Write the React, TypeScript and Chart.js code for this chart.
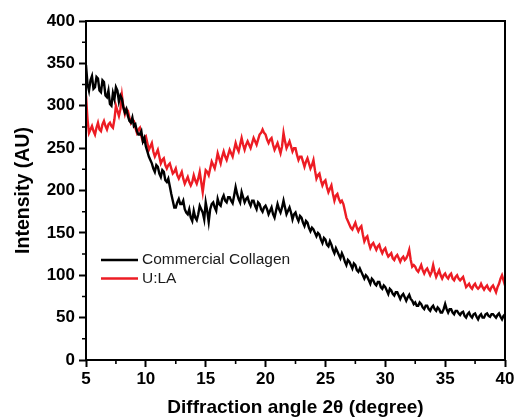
import React, { useEffect, useRef } from "react";
import { Chart, registerables } from "chart.js";

Chart.register(...registerables);

const angles = [
  5, 5.125, 5.25, 5.375, 5.5, 5.625, 5.75, 5.875,
  6, 6.125, 6.25, 6.375, 6.5, 6.625, 6.75, 6.875,
  7, 7.125, 7.25, 7.375, 7.5, 7.625, 7.75, 7.875,
  8, 8.125, 8.25, 8.375, 8.5, 8.625, 8.75, 8.875,
  9, 9.125, 9.25, 9.375, 9.5, 9.625, 9.75, 9.875,
  10, 10.125, 10.25, 10.375, 10.5, 10.625, 10.75, 10.875,
  11, 11.125, 11.25, 11.375, 11.5, 11.625, 11.75, 11.875,
  12, 12.125, 12.25, 12.375, 12.5, 12.625, 12.75, 12.875,
  13, 13.125, 13.25, 13.375, 13.5, 13.625, 13.75, 13.875,
  14, 14.125, 14.25, 14.375, 14.5, 14.625, 14.75, 14.875,
  15, 15.125, 15.25, 15.375, 15.5, 15.625, 15.75, 15.875,
  16, 16.125, 16.25, 16.375, 16.5, 16.625, 16.75, 16.875,
  17, 17.125, 17.25, 17.375, 17.5, 17.625, 17.75, 17.875,
  18, 18.125, 18.25, 18.375, 18.5, 18.625, 18.75, 18.875,
  19, 19.125, 19.25, 19.375, 19.5, 19.625, 19.75, 19.875,
  20, 20.125, 20.25, 20.375, 20.5, 20.625, 20.75, 20.875,
  21, 21.125, 21.25, 21.375, 21.5, 21.625, 21.75, 21.875,
  22, 22.125, 22.25, 22.375, 22.5, 22.625, 22.75, 22.875,
  23, 23.125, 23.25, 23.375, 23.5, 23.625, 23.75, 23.875,
  24, 24.125, 24.25, 24.375, 24.5, 24.625, 24.75, 24.875,
  25, 25.125, 25.25, 25.375, 25.5, 25.625, 25.75, 25.875,
  26, 26.125, 26.25, 26.375, 26.5, 26.625, 26.75, 26.875,
  27, 27.125, 27.25, 27.375, 27.5, 27.625, 27.75, 27.875,
  28, 28.125, 28.25, 28.375, 28.5, 28.625, 28.75, 28.875,
  29, 29.125, 29.25, 29.375, 29.5, 29.625, 29.75, 29.875,
  30, 30.125, 30.25, 30.375, 30.5, 30.625, 30.75, 30.875,
  31, 31.125, 31.25, 31.375, 31.5, 31.625, 31.75, 31.875,
  32, 32.125, 32.25, 32.375, 32.5, 32.625, 32.75, 32.875,
  33, 33.125, 33.25, 33.375, 33.5, 33.625, 33.75, 33.875,
  34, 34.125, 34.25, 34.375, 34.5, 34.625, 34.75, 34.875,
  35, 35.125, 35.25, 35.375, 35.5, 35.625, 35.75, 35.875,
  36, 36.125, 36.25, 36.375, 36.5, 36.625, 36.75, 36.875,
  37, 37.125, 37.25, 37.375, 37.5, 37.625, 37.75, 37.875,
  38, 38.125, 38.25, 38.375, 38.5, 38.625, 38.75, 38.875,
  39, 39.125, 39.25, 39.375, 39.5, 39.625, 39.75, 39.875,
  40,
];

const commercialCollagen = [
  348, 326, 318, 330, 335, 320, 322, 334,
  332, 318, 316, 330, 328, 312, 310, 318,
  302, 300, 315, 308, 322, 318, 305, 312,
  308, 298, 292, 296, 288, 282, 280, 286,
  276, 278, 270, 266, 266, 270, 258, 262,
  252, 246, 240, 236, 232, 226, 222, 230,
  228, 220, 216, 224, 222, 212, 210, 214,
  205, 196, 188, 180, 180, 186, 190, 184,
  184, 188, 178, 174, 172, 178, 168, 164,
  176, 168, 165, 172, 182, 178, 174, 166,
  186, 176, 163, 178, 184, 186, 180, 176,
  190, 184, 182, 190, 194, 188, 186, 192,
  192, 188, 185, 194, 204, 196, 190, 186,
  198, 192, 186, 190, 192, 186, 182, 188,
  188, 182, 178, 186, 184, 178, 175, 180,
  182, 178, 172, 176, 180, 172, 168, 176,
  184, 178, 174, 180, 188, 180, 172, 176,
  180, 174, 166, 172, 174, 168, 164, 170,
  168, 162, 158, 164, 162, 156, 152, 156,
  154, 150, 146, 150, 148, 142, 138, 144,
  142, 136, 134, 140, 136, 130, 126, 132,
  128, 124, 120, 126, 122, 116, 112, 118,
  116, 112, 108, 114, 112, 106, 104, 108,
  104, 100, 96, 100, 98, 94, 90, 96,
  94, 90, 88, 92, 92, 86, 84, 88,
  86, 82, 78, 84, 82, 78, 76, 80,
  80, 76, 72, 76, 78, 74, 70, 74,
  77, 72, 70, 66, 68, 64, 64, 68,
  66, 62, 60, 64, 64, 60, 58, 62,
  64, 60, 58, 62, 60, 56, 56, 60,
  66, 60, 56, 60, 60, 56, 54, 58,
  58, 55, 53, 56, 57, 52, 50, 54,
  56, 52, 50, 54, 55, 51, 48, 52,
  54, 50, 50, 54, 55, 52, 51, 54,
  54, 52, 50, 53, 55, 51, 48, 52,
  54,
];

const ula = [
  312, 284, 268, 272, 276, 270, 266, 274,
  280, 272, 270, 278, 282, 276, 272, 278,
  280, 276, 274, 284, 300, 294, 288, 296,
  312, 298, 290, 296, 294, 286, 280, 284,
  282, 274, 268, 272, 274, 264, 258, 262,
  264, 256, 248, 252, 256, 246, 240, 244,
  248, 240, 232, 236, 238, 230, 226, 230,
  232, 226, 220, 222, 226, 218, 214, 218,
  222, 214, 208, 212, 216, 210, 206, 210,
  218, 212, 208, 214, 222, 210, 198, 212,
  224, 222, 218, 226, 234, 230, 226, 234,
  244, 238, 232, 240, 246, 240, 236, 242,
  248, 244, 240, 248, 256, 250, 246, 254,
  262, 254, 248, 254, 258, 254, 250, 256,
  262, 258, 254, 260, 266, 268, 272, 268,
  266, 260, 256, 260, 262, 254, 248, 252,
  256, 250, 244, 252, 268, 258, 250, 254,
  258, 252, 246, 250, 250, 242, 236, 240,
  240, 234, 228, 234, 238, 232, 226, 230,
  236, 224, 214, 218, 220, 212, 206, 210,
  212, 204, 198, 202, 206, 196, 188, 194,
  196, 190, 186, 188, 184, 176, 168, 164,
  160, 156, 154, 158, 162, 156, 152, 156,
  158, 148, 140, 144, 146, 138, 132, 136,
  138, 134, 130, 134, 136, 130, 126, 130,
  132, 126, 122, 124, 126, 120, 118, 122,
  124, 120, 116, 120, 122, 118, 120, 124,
  130, 118, 110, 112, 110, 106, 104, 108,
  112, 106, 102, 106, 108, 104, 100, 104,
  112, 104, 98, 102, 106, 100, 96, 100,
  102, 98, 96, 100, 102, 96, 94, 98,
  100, 96, 94, 96, 98, 92, 86, 88,
  90, 86, 84, 88, 90, 86, 84, 86,
  90, 86, 83, 86, 88, 84, 82, 86,
  88, 84, 80, 86, 90, 96, 100, 94,
  88,
];

const seriesLabels = ["Commercial Collagen", "U:LA"];
const seriesColors = ["#000000", "#ed1c24"];
const xMajorTicks = [5, 10, 15, 20, 25, 30, 35, 40];
const xMinorTicks = [7.5, 12.5, 17.5, 22.5, 27.5, 32.5, 37.5];
const yMajorTicks = [0, 50, 100, 150, 200, 250, 300, 350, 400];
const yMinorTicks = [25, 75, 125, 175, 225, 275, 325, 375];

const FONT = "'Liberation Sans', Arial, Helvetica, sans-serif";

const framePlugin = {
  id: "frame",
  afterDraw(chart: any) {
    const { ctx, chartArea } = chart;
    const xs = chart.scales.x;
    const ys = chart.scales.y;
    ctx.save();
    ctx.strokeStyle = "#000";
    ctx.lineWidth = 2;
    ctx.strokeRect(
      chartArea.left,
      chartArea.top,
      chartArea.right - chartArea.left,
      chartArea.bottom - chartArea.top
    );
    ctx.lineWidth = 1.6;
    ctx.beginPath();
    xMinorTicks.forEach((v) => {
      const px = xs.getPixelForValue(v);
      ctx.moveTo(px, chartArea.bottom);
      ctx.lineTo(px, chartArea.bottom + 4);
    });
    yMinorTicks.forEach((v) => {
      const py = ys.getPixelForValue(v);
      ctx.moveTo(chartArea.left, py);
      ctx.lineTo(chartArea.left - 4, py);
    });
    ctx.stroke();

    // legend
    const lx = chartArea.left + 15;
    const ly = chartArea.top + 239;
    ctx.font = `15.5px ${FONT}`;
    ctx.textBaseline = "middle";
    ctx.textAlign = "left";
    seriesLabels.forEach((lab, i) => {
      const y = ly + i * 18.5;
      ctx.strokeStyle = seriesColors[i];
      ctx.lineWidth = 2.5;
      ctx.beginPath();
      ctx.moveTo(lx, y);
      ctx.lineTo(lx + 37, y);
      ctx.stroke();
      ctx.fillStyle = "#1a1a1a";
      ctx.fillText(lab, lx + 41, y);
    });
    ctx.restore();
  },
};

export default function App() {
  const ref = useRef<HTMLCanvasElement | null>(null);

  useEffect(() => {
    document.body.style.margin = "0";
    const canvas = ref.current;
    if (!canvas) return;
    const makePoints = (vals: number[]) =>
      angles.map((a, i) => ({ x: a, y: vals[i] }));

    const chart = new Chart(canvas, {
      type: "line",
      data: {
        datasets: [
          {
            label: seriesLabels[0],
            data: makePoints(commercialCollagen),
            borderColor: seriesColors[0],
            borderWidth: 2.4,
            pointRadius: 0,
            tension: 0,
          },
          {
            label: seriesLabels[1],
            data: makePoints(ula),
            borderColor: seriesColors[1],
            borderWidth: 2.4,
            pointRadius: 0,
            tension: 0,
          },
        ],
      },
      options: {
        animation: false,
        responsive: false,
        devicePixelRatio: 1,
        layout: { padding: { top: 21, right: 9, left: 0, bottom: 0 } },
        plugins: {
          legend: { display: false },
          tooltip: { enabled: false },
        },
        scales: {
          x: {
            type: "linear",
            min: 5,
            max: 40,
            afterBuildTicks: (scale: any) => {
              scale.ticks = xMajorTicks.map((v) => ({ value: v }));
            },
            afterFit: (scale: any) => {
              scale.height = 58;
              scale.paddingLeft = 0;
              scale.paddingRight = 0;
            },
            ticks: {
              font: { family: FONT, size: 17, weight: "bold" },
              color: "#000",
              padding: 2,
              maxRotation: 0,
            },
            grid: {
              display: true,
              drawOnChartArea: false,
              drawTicks: true,
              tickLength: 7,
              tickColor: "#000",
              tickWidth: 2,
            },
            border: { display: false },
            title: {
              display: true,
              text: "Diffraction angle 2θ (degree)",
              font: { family: FONT, size: 19, weight: "bold", lineHeight: 1 },
              color: "#000",
              padding: { top: 0, bottom: 1 },
            },
          },
          y: {
            type: "linear",
            min: 0,
            max: 400,
            afterBuildTicks: (scale: any) => {
              scale.ticks = yMajorTicks.map((v) => ({ value: v }));
            },
            afterFit: (scale: any) => {
              scale.width = 86;
              scale.paddingTop = 0;
              scale.paddingBottom = 0;
            },
            ticks: {
              font: { family: FONT, size: 17, weight: "bold" },
              color: "#000",
              padding: 4,
            },
            grid: {
              display: true,
              drawOnChartArea: false,
              drawTicks: true,
              tickLength: 7,
              tickColor: "#000",
              tickWidth: 2,
            },
            border: { display: false },
            title: {
              display: true,
              text: "Intensity (AU)",
              font: { family: FONT, size: 19.5, weight: "bold", lineHeight: 1 },
              color: "#000",
              padding: { top: 14, bottom: 0 },
            },
          },
        },
      },
      plugins: [framePlugin],
    } as any);

    return () => chart.destroy();
  }, []);

  return (
    <div style={{ width: 514, height: 418 }}>
      <canvas ref={ref} width={514} height={418} style={{ display: "block" }} />
    </div>
  );
}
